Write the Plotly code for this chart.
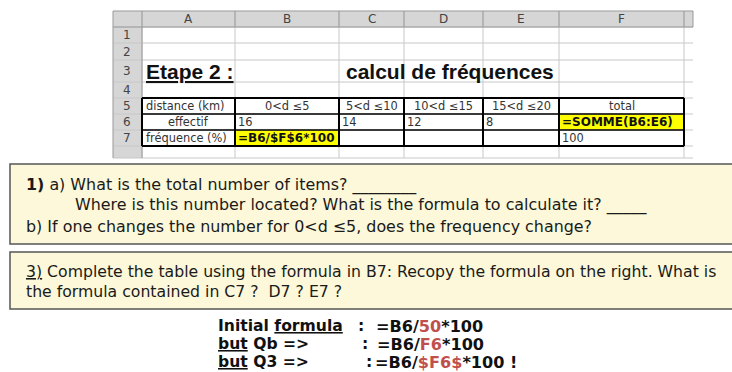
import plotly.graph_objects as go

# spreadsheet content
col_letters = ["A", "B", "C", "D", "E", "F"]
row_numbers = ["1", "2", "3", "4", "5", "6", "7"]
intervals = ["0<d ≤5", "5<d ≤10", "10<d ≤15", "15<d ≤20"]
effectifs = [16, 14, 12, 8]
row_labels = ["distance (km)", "effectif", "fréquence (%)"]
total_label = "total"
total_formula = "=SOMME(B6:E6)"
freq_formula = "=B6/$F$6*100"
total_percent = 100

# layout of the sheet (pixels)
col_edges = [142, 235, 339, 404, 483, 559, 684]
row_edges = [11, 27, 43, 60, 82, 98, 114, 130, 146, 158]
sheet_l, sheet_r = 113, 693

grey_hdr = "#D6D6D6"
grid = "#C8C8C8"
cell_txt = "#333333"
cream = "#FCF8D9"
box_line = "#555555"

sheet_font = dict(family="DejaVu Sans", size=11.4, color=cell_txt)
box_font = dict(family="DejaVu Sans, Verdana", size=15.9, color="#1a1a1a")

fig = go.Figure()
shapes = []
ann = []


def rect(x0, y0, x1, y1, fill=None, line=None, width=1):
    shapes.append(dict(type="rect", x0=x0, y0=y0, x1=x1, y1=y1, xref="x", yref="y",
                       fillcolor=fill or "rgba(0,0,0,0)",
                       line=dict(color=line or "rgba(0,0,0,0)", width=width if line else 0)))


def hline(y, x0, x1, color, width=1):
    shapes.append(dict(type="line", x0=x0, x1=x1, y0=y, y1=y, xref="x", yref="y",
                       line=dict(color=color, width=width)))


def vline(x, y0, y1, color, width=1):
    shapes.append(dict(type="line", x0=x, x1=x, y0=y0, y1=y1, xref="x", yref="y",
                       line=dict(color=color, width=width)))


def text(x, y, s, font, anchor="left"):
    ann.append(dict(x=x, y=y, xref="x", yref="y", text=s, showarrow=False,
                    xanchor=anchor, yanchor="middle", font=font, borderpad=0))


# header bands
rect(sheet_l, row_edges[0], sheet_r, row_edges[1], fill=grey_hdr)
rect(sheet_l, row_edges[0], col_edges[0], row_edges[-1], fill=grey_hdr)

# yellow cells
rect(col_edges[1], row_edges[7], col_edges[2], row_edges[8], fill="#FFFF00")
rect(col_edges[5], row_edges[6], col_edges[6], row_edges[7], fill="#FFFF00")

# grid lines
for x in col_edges:
    vline(x, row_edges[0], row_edges[-1], grid)
for y in row_edges[1:]:
    hline(y, sheet_l, sheet_r, grid)
vline(sheet_l, row_edges[0], row_edges[-1], "#999999")
hline(row_edges[0], sheet_l, sheet_r, "#999999")
hline(row_edges[1], sheet_l, sheet_r, "#9a9a9a")
vline(col_edges[0], row_edges[0], row_edges[-1], "#9a9a9a")
for x in col_edges[1:] + [sheet_r]:
    vline(x, row_edges[0], row_edges[1], "#9a9a9a")

# table borders
t0, t1 = row_edges[5], row_edges[8]
for x in col_edges:
    vline(x, t0, t1, "black", 2)
for y in row_edges[5:9]:
    hline(y, col_edges[0], col_edges[-1], "black", 2 if y in (t0, t1) else 1.5)

# column letters and row numbers
hdr_font = dict(sheet_font, size=12, color="#444")
for i, c in enumerate(col_letters):
    text((col_edges[i] + col_edges[i + 1]) / 2, 19, c, hdr_font, "center")
for i, r in enumerate(row_numbers):
    text(127, (row_edges[i + 1] + row_edges[i + 2]) / 2, r, hdr_font, "center")

# row 3 titles
title_font = dict(family="Liberation Sans, Arial", size=21, color="#111")
text(145, 71, "<b><u>Etape 2 :</u></b>", title_font)
text(345, 71, "<b>calcul de fréquences</b>", title_font)

# row 5
y5 = (row_edges[5] + row_edges[6]) / 2
text(145, y5, row_labels[0], sheet_font)
for i, lab in enumerate(intervals):
    text((col_edges[i + 1] + col_edges[i + 2]) / 2, y5, lab, sheet_font, "center")
text((col_edges[5] + col_edges[6]) / 2, y5, total_label, sheet_font, "center")

# row 6
y6 = (row_edges[6] + row_edges[7]) / 2
text((col_edges[0] + col_edges[1]) / 2, y6, row_labels[1], sheet_font, "center")
for i, v in enumerate(effectifs):
    text(col_edges[i + 1] + 2, y6, str(v), sheet_font)
text(col_edges[5] + 2, y6, "<b>" + total_formula + "</b>", dict(sheet_font, size=12, color="#111"))

# row 7
y7 = (row_edges[7] + row_edges[8]) / 2
text(145, y7, row_labels[2], sheet_font)
text(col_edges[1] + 2, y7, "<b>" + freq_formula + "</b>", dict(sheet_font, size=12, color="#111"))
text(col_edges[5] + 2, y7, str(total_percent), sheet_font)

# question boxes
rect(10, 164, 745, 244, fill=cream, line=box_line, width=1.5)
rect(10, 252, 745, 309, fill=cream, line=box_line, width=1.5)

text(25, 185, "<b>1)</b> a) What is the total number of items? ________", box_font)
text(74, 205, "Where is this number located? What is the formula to calculate it? _____", box_font)
text(25, 226, "b) If one changes the number for 0&lt;d ≤5, does the frequency change?", box_font)
text(25, 271, "<u>3)</u> Complete the table using the formula in B7: Recopy the formula on the right. What is",
     dict(box_font, size=15.7))
text(25, 291, "the formula contained in C7 ?  D7 ? E7 ?", dict(box_font, size=15.7))

# formulas at the bottom
bold = dict(family="DejaVu Sans, Verdana", size=15.6, color="#111")
bold_f = dict(bold, size=16.1)
red = "#C0504D"
text(217, 326, "<b>Initial <u>formula</u></b>", bold)
text(357, 326, "<b>:</b>", bold)
text(375, 326, f"<b>=B6/<span style='color:{red}'>50</span>*100</b>", bold_f)
text(217, 344, "<b><u>but</u> Qb =&gt;</b>", bold)
text(361, 344, "<b>:</b>", bold)
text(376, 344, f"<b>=B6/<span style='color:{red}'>F6</span>*100</b>", bold_f)
text(217, 362, "<b><u>but</u> Q3 =&gt;</b>", bold)
text(365, 362, "<b>:</b>", bold)
text(374, 362, f"<b>=B6/<span style='color:{red}'>$F6$</span>*100 !</b>", bold_f)

fig.update_layout(
    width=732, height=372,
    margin=dict(l=0, r=0, t=0, b=0),
    paper_bgcolor="white", plot_bgcolor="white",
    xaxis=dict(range=[0, 732], visible=False, fixedrange=True),
    yaxis=dict(range=[372, 0], visible=False, fixedrange=True),
    shapes=shapes, annotations=ann, showlegend=False,
)
fig.write_html("out.html", config={"displayModeBar": False},
               post_script="document.body.style.margin='0';")
